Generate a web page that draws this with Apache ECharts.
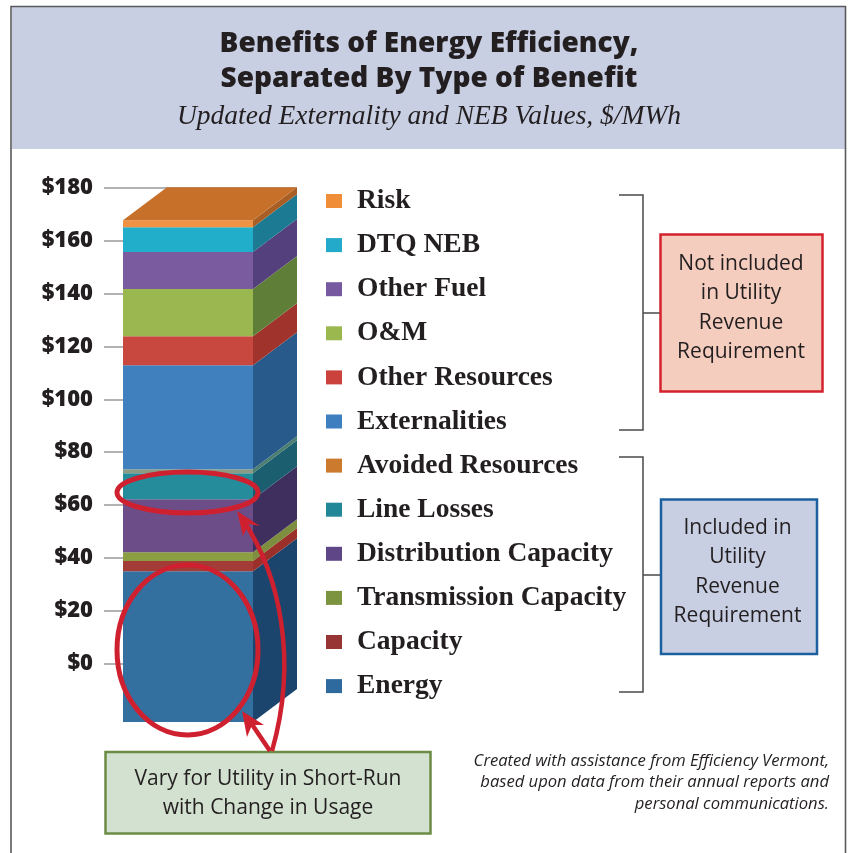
<!DOCTYPE html>
<html>
<head>
<meta charset="utf-8">
<style>html,body{margin:0;padding:0;background:#fff}#c{width:848px;height:853px}</style>
<script src="https://cdn.jsdelivr.net/npm/echarts@6/dist/echarts.min.js"></script>
</head>
<body>
<div id="c"></div>
<script>
// ---- data, bottom of the stack first ----
const categories = ['Benefits'];
const seriesNames = ['Energy','Capacity','Transmission Capacity','Distribution Capacity','Line Losses','Avoided Resources','Externalities','Other Resources','O&M','Other Fuel','DTQ NEB','Risk'];
const seriesValues = [57,3.8,3.4,20,9.8,1.5,39.3,11,17.8,14,9.4,2.6];
const axisTicks = [0,20,40,60,80,100,120,140,160,180];
// ---- styles ----
const legendColors = ['#2e6a9e','#963533','#7c9440','#5f4787','#23879a','#cc7a2e','#3f7fc0','#cb423c','#9bb84f','#77599f','#23a9c9','#f08d38'];
const frontColors  = ['#33709f','#a33c36','#8b9e42','#6d4d88','#258c9b','#8c9b84','#4080bf','#c8483f','#9bb850','#7a5ba0','#21aecb','#ef9244'];
const sideColors   = ['#1c456e','#9b2f2a','#7d8f3f','#3f2f5f','#1a5e70','#4d7f70','#285b8c','#a0342c','#5f7f38','#54407c','#1c7b93','#a85e25'];
const topColor = '#c7702a';
const depthX = 44, depthY = -33;
const ink = '#231f20', red = '#cf2030';

function renderSegment(params, api) {
  const i = params.seriesIndex - 1;
  let base = 0;
  for (let k = 0; k < i; k++) base += seriesValues[k];
  const v = api.value(1);
  const bottom = api.coord([0, base]);
  const top = api.coord([0, base + v]);
  const w = api.size([1, 0])[0];
  const l = bottom[0] - w / 2, r = l + w, yb = bottom[1], yt = top[1];
  const children = [
    {type:'polygon', shape:{points:[[r,yb],[r+depthX,yb+depthY],[r+depthX,yt+depthY],[r,yt]]}, style:{fill:sideColors[i]}},
    {type:'rect', shape:{x:l,y:yt,width:w,height:yb-yt}, style:{fill:frontColors[i]}}
  ];
  if (i === seriesNames.length - 1) {
    children.push({type:'polygon', shape:{points:[[l,yt],[l+depthX,yt+depthY],[r+depthX,yt+depthY],[r,yt]]}, style:{fill:topColor}});
  }
  return {type:'group', children};
}

const series = [
  // anchors the visible tick axis
  {type:'line', xAxisIndex:0, yAxisIndex:0, data:[], silent:true}
].concat(seriesNames.map((name,i)=>({
  name, type:'custom', xAxisIndex:1, yAxisIndex:1, z:3, silent:true,
  itemStyle:{color:legendColors[i]}, renderItem:renderSegment,
  encode:{x:0,y:1}, data:[[0,seriesValues[i]]]
})));

const T = (text,x,y,font,extra={}) => ({type:'text', x, y, z:50, silent:true, ...extra,
  style:{text, fill:ink, textAlign:'center', textVerticalAlign:'middle', font, ...(extra.style||{})}});
const boxText = (lines,cx,cy,pitch,font) => lines.map((t,i)=>T(t,cx,cy+(i-(lines.length-1)/2)*pitch,font));
const bracket = (x0,x1,x2,y0,y1,ym) => [
  {type:'polyline', z:40, silent:true, shape:{points:[[x0,y0],[x1,y0],[x1,y1],[x0,y1]]}, style:{stroke:'#4a4a4c',lineWidth:1.5,fill:null}},
  {type:'line', z:40, silent:true, shape:{x1,y1:ym,x2,y2:ym}, style:{stroke:'#4a4a4c',lineWidth:1.5}}
];
const redLine = {stroke:red, lineWidth:5, fill:null};

const graphic = [
  {type:'rect', z:0, silent:true, shape:{x:12,y:7,width:833,height:142}, style:{fill:'#c8cfe3'}},
  {type:'polyline', z:1, silent:true, shape:{points:[[11,853],[11,6.5],[845.5,6.5],[845.5,853]]}, style:{stroke:'#5a5a5c',lineWidth:1.6,fill:null}},
  T('Benefits of Energy Efficiency,',429,44.5,'800 28px "Open Sans"'),
  T('Separated By Type of Benefit',429,79,'800 28px "Open Sans"'),
  T('Updated Externality and NEB Values, $/MWh',429,117,'italic 27.5px "Liberation Serif"'),
  ...bracket(619,643,660,195,430,313),
  ...bracket(619,643,660,457,692,575),
  {type:'rect', z:41, silent:true, shape:{x:660.5,y:234.5,width:162,height:157}, style:{fill:'#f4cdbf',stroke:'#d3222e',lineWidth:2.5}},
  ...boxText(['Not included','in Utility','Revenue','Requirement'],741,308,29.3,'21px "Open Sans"'),
  {type:'rect', z:41, silent:true, shape:{x:661,y:499.5,width:156,height:154.5}, style:{fill:'#c8cfe3',stroke:'#1c5f9f',lineWidth:2.5}},
  ...boxText(['Included in','Utility','Revenue','Requirement'],737.5,572,29.3,'21px "Open Sans"'),
  {type:'rect', z:41, silent:true, shape:{x:105.5,y:752,width:325,height:81.5}, style:{fill:'#d3e1d0',stroke:'#6b8c45',lineWidth:2.5}},
  ...boxText(['Vary for Utility in Short-Run','with Change in Usage'],268,794,29,'21px "Open Sans"'),
  ...['Created with assistance from Efficiency Vermont,','based upon data from their annual reports and','personal communications.'].map((t,i)=>
    T(t,829,761+i*21.5,'italic 16.6px "Open Sans"',{style:{textAlign:'right'}})),
  {type:'ellipse', z:60, silent:true, shape:{cx:187.5,cy:492.5,rx:70.5,ry:20.5}, style:redLine},
  {type:'ellipse', z:60, silent:true, shape:{cx:187.5,cy:650,rx:70.5,ry:85}, style:redLine},
  {type:'bezierCurve', z:60, silent:true, shape:{x1:272,y1:751,cpx1:298,cpy1:660,cpx2:280,cpy2:575,x2:243,y2:520}, style:{...redLine,lineWidth:4.5}},
  {type:'polygon', z:60, silent:true, shape:{points:[[237,511],[260,526],[249,524],[243,536]]}, style:{fill:red}},
  {type:'line', z:60, silent:true, shape:{x1:270,y1:751,x2:247,y2:717}, style:{stroke:red,lineWidth:4.5}},
  {type:'polygon', z:60, silent:true, shape:{points:[[242,711],[264,725],[252,725],[247,737]]}, style:{fill:red}}
];

const option = {
  animation:false,
  backgroundColor:'#fff',
  grid:[
    {left:123,top:187.5,width:174,height:476.5},
    {left:123,top:219.26,width:130,height:502.74}
  ],
  xAxis:[
    {gridIndex:0,type:'category',data:categories,show:false},
    {gridIndex:1,type:'category',data:categories,show:false}
  ],
  yAxis:[
    {gridIndex:0,type:'value',min:0,max:180,interval:20,
      axisLine:{show:false},
      axisTick:{show:true,length:19,lineStyle:{color:'#9a9a9c',width:1.5},customValues:axisTicks},
      axisLabel:{margin:30,fontFamily:'"Open Sans"',fontWeight:800,fontSize:22,color:ink,padding:[0,0,6,0],formatter:v=>'$'+v},
      splitLine:{show:true,lineStyle:{color:'#9a9a9c',width:1.5}}},
    {gridIndex:1,type:'value',min:0,max:190,show:false}
  ],
  legend:{
    show:true, orient:'vertical', left:326, top:187, padding:0, itemWidth:16, itemHeight:14, itemGap:16.1,
    icon:'rect', selectedMode:false,
    data:seriesNames.slice().reverse(),
    textStyle:{fontFamily:'"Liberation Serif"',fontWeight:'bold',fontSize:27.5,lineHeight:25,color:ink,padding:[0,0,0,10]}
  },
  graphic:{elements:graphic},
  series
};
const chart = echarts.init(document.getElementById('c'),null,{renderer:'canvas'});
chart.setOption(option);
</script>
</body>
</html>
